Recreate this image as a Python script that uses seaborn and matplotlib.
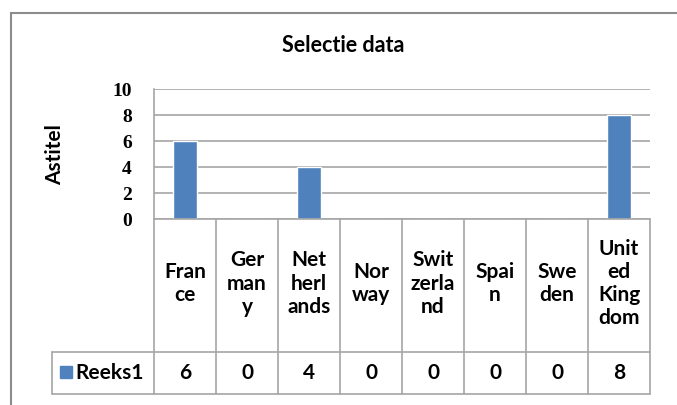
import matplotlib
matplotlib.use("Agg")
import matplotlib.pyplot as plt
import matplotlib.transforms as mtransforms
from matplotlib.lines import Line2D
from matplotlib.patches import Rectangle
import seaborn as sns
import pandas as pd

# Data
countries = ["France", "Germany", "Netherlands", "Norway", "Switzerland",
             "Spain", "Sweden", "United Kingdom"]
wrapped_labels = ["Fran\nce", "Ger\nman\ny", "Net\nherl\nands", "Nor\nway",
                  "Swit\nzerla\nnd", "Spai\nn", "Swe\nden", "Unit\ned\nKing\ndom"]
values = [6, 0, 4, 0, 0, 0, 0, 8]
series_name = "Reeks1"
y_ticks = [0, 2, 4, 6, 8, 10]
title = "Selectie data"
y_label = "Astitel"

W, H = 677, 405
BAR = "#4F81BD"
GRID = "#A6A6A6"
FRAME = "#8C8C8C"
TXT = 15

sns.set_theme(style="white")
plt.rcParams["font.family"] = ["Lato", "DejaVu Sans"]

fig = plt.figure(figsize=(W / 100, H / 100), dpi=100)
fig.patch.set_facecolor("white")


def fx(x):
    return x / W


def fy(y):
    return 1 - y / H


# Plot area
left, right, top, bottom = 154, 650, 89, 219
ax = fig.add_axes([fx(left), fy(bottom), fx(right) - fx(left), fy(top) - fy(bottom)])

df = pd.DataFrame({"country": countries, "value": values})
sns.barplot(data=df, x="country", y="value", color=BAR, saturation=1,
            width=0.39, ax=ax, zorder=3)

ax.set_xlim(-0.5, len(countries) - 0.5)
ax.set_ylim(0, 10)
ax.set_yticks(y_ticks)
ax.set_yticklabels([str(t) for t in y_ticks], family="Liberation Serif",
                   fontweight="bold", fontsize=14, color="black")
ax.tick_params(axis="y", length=0, pad=16)
ax.set_xticks([])
ax.set_xlabel("")
ax.set_ylabel("")
ax.yaxis.grid(True, color=GRID, linewidth=1.2, zorder=0)
for side in ["top", "right", "bottom"]:
    ax.spines[side].set_visible(False)
ax.spines["left"].set_color(GRID)
ax.spines["left"].set_linewidth(1.2)

# Title and axis label
fig.text(fx(343), fy(45), title, ha="center", va="center",
         fontsize=15.5, fontweight="bold", color="black")
fig.text(fx(55), fy(155), y_label, ha="center", va="center", rotation=90,
         fontsize=TXT, fontweight="bold", color="black")

# Data table under the plot
tr = mtransforms.blended_transform_factory(ax.transData, fig.transFigure)
row_split, table_bottom, legend_left = 352, 394, 52
n = len(countries)

def line(xs, ys, trans=fig.transFigure):
    fig.add_artist(Line2D(xs, ys, transform=trans, color=GRID, linewidth=1.2))

line([-0.5, n - 0.5], [fy(bottom)] * 2, tr)
line([fx(legend_left), fx(right)], [fy(row_split)] * 2)
line([fx(legend_left), fx(right)], [fy(table_bottom)] * 2)
line([fx(legend_left)] * 2, [fy(row_split), fy(table_bottom)])
for i in range(n + 1):
    line([i - 0.5] * 2, [fy(bottom), fy(table_bottom)], tr)

for i, (lab, v) in enumerate(zip(wrapped_labels, values)):
    fig.text(i, fy((bottom + row_split) / 2 - 2), lab, transform=tr, ha="center",
             va="center", fontsize=TXT, fontweight="bold", linespacing=1.2,
             color="black")
    fig.text(i, fy((row_split + table_bottom) / 2), str(v), transform=tr,
             ha="center", va="center", fontsize=TXT, fontweight="bold",
             color="black")

# Legend key in the table
fig.add_artist(Rectangle((fx(60), fy(378)), fx(12), fy(0) - fy(12),
                         transform=fig.transFigure, color=BAR))
fig.text(fx(75), fy((row_split + table_bottom) / 2), series_name, ha="left",
         va="center", fontsize=TXT, fontweight="bold", color="black")

# Chart frame
fig.add_artist(Rectangle((fx(11), fy(430)), fx(700), fy(13) - fy(430),
                         transform=fig.transFigure, fill=False,
                         edgecolor=FRAME, linewidth=1.5))

fig.savefig("out.png", dpi=100)
